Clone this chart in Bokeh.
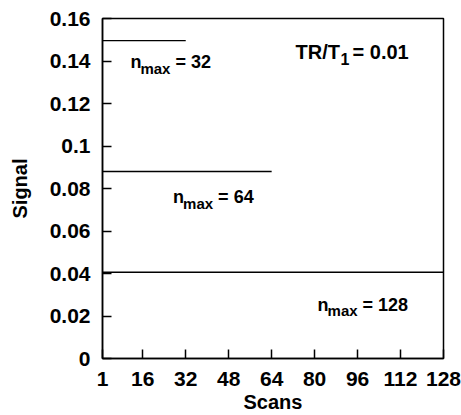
from bokeh.plotting import figure
from bokeh.models import Range1d, FixedTicker, ColumnDataSource
from bokeh.core.properties import value
from bokeh.embed import file_html
from bokeh.resources import INLINE

# Data
scans_32 = [1, 32]
signal_32 = [0.1496, 0.1496]
scans_64 = [1, 64]
signal_64 = [0.088, 0.088]
scans_128 = [1, 128]
signal_128 = [0.0406, 0.0406]

x_ticks = [1, 16, 32, 48, 64, 80, 96, 112, 128]
x_tick_labels = ["1", "16", "32", "48", "64", "80", "96", "112", "128"]
y_ticks = [0, 0.02, 0.04, 0.06, 0.08, 0.1, 0.12, 0.14, 0.16]
y_tick_labels = ["0", "0.02", "0.04", "0.06", "0.08", "0.1", "0.12", "0.14", "0.16"]

label_x = [11.4, 27.3, 81.1]
label_y = [0.1394, 0.0759, 0.0254]
label_values = ["= 32", "= 64", "= 128"]

FONT = "Liberation Sans"

p = figure(width=461, height=415, output_backend="svg", toolbar_location=None,
           x_range=Range1d(1, 128), y_range=Range1d(0, 0.16),
           min_border_left=102, min_border_right=18, min_border_top=18, min_border_bottom=57)
p.xgrid.visible = False
p.ygrid.visible = False
p.outline_line_color = "black"
p.outline_line_width = 1.5
p.background_fill_color = "white"
p.border_fill_color = "white"

for ax in (p.xaxis[0], p.yaxis[0]):
    ax.major_tick_in = 9
    ax.major_tick_out = 0
    ax.minor_tick_in = 0
    ax.minor_tick_out = 0
    ax.axis_line_width = 1.5
    ax.major_tick_line_width = 1.5
    ax.major_label_text_font = FONT
    ax.major_label_text_font_style = "bold"
    ax.major_label_text_font_size = "21px"
    ax.major_label_text_color = "black"
    ax.axis_label_text_font = FONT
    ax.axis_label_text_font_style = "bold"
    ax.axis_label_text_font_size = "20px"
    ax.axis_label_text_color = "black"

p.xaxis.ticker = FixedTicker(ticks=x_ticks)
p.xaxis.major_label_overrides = {t: l for t, l in zip(x_ticks, x_tick_labels)}
p.yaxis.ticker = FixedTicker(ticks=y_ticks)
p.yaxis.major_label_overrides = {t: l for t, l in zip(y_ticks, y_tick_labels)}
p.xaxis.axis_label = "Scans"
p.yaxis.axis_label = "Signal"
p.xaxis.major_label_standoff = 13
p.yaxis.major_label_standoff = 12
p.xaxis.axis_label_standoff = 2
p.yaxis.axis_label_standoff = 16

for xs, ys in ((scans_32, signal_32), (scans_64, signal_64), (scans_128, signal_128)):
    p.line(xs, ys, line_color="black", line_width=1.3)

src = ColumnDataSource(dict(x=label_x, y=label_y, v=label_values,
                            n=["n"] * 3, s=["max"] * 3))
p.text(x="x", y="y", text="n", source=src, text_font=value(FONT), text_font_style="bold",
       text_font_size="18px", text_baseline="alphabetic", text_align="left", text_color="black")
p.text(x="x", y="y", text="s", source=src, text_font=value(FONT), text_font_style="bold",
       text_font_size="15px", text_baseline="alphabetic", text_align="left", text_color="black",
       x_offset=10, y_offset=6)
p.text(x="x", y="y", text="v", source=src, text_font=value(FONT), text_font_style="bold",
       text_font_size="18px", text_baseline="alphabetic", text_align="left", text_color="black",
       x_offset=45)

tr_x = [72.9]
tr_y = [0.1441]
src2 = ColumnDataSource(dict(x=tr_x, y=tr_y, a=["TR/T"], b=["1"], c=["= 0.01"]))
p.text(x="x", y="y", text="a", source=src2, text_font=value(FONT), text_font_style="bold",
       text_font_size="20px", text_baseline="alphabetic", text_align="left", text_color="black")
p.text(x="x", y="y", text="b", source=src2, text_font=value(FONT), text_font_style="bold",
       text_font_size="16px", text_baseline="alphabetic", text_align="left", text_color="black",
       x_offset=45, y_offset=7)
p.text(x="x", y="y", text="c", source=src2, text_font=value(FONT), text_font_style="bold",
       text_font_size="20px", text_baseline="alphabetic", text_align="left", text_color="black",
       x_offset=57)

open("out.html", "w").write(file_html(p, INLINE))
